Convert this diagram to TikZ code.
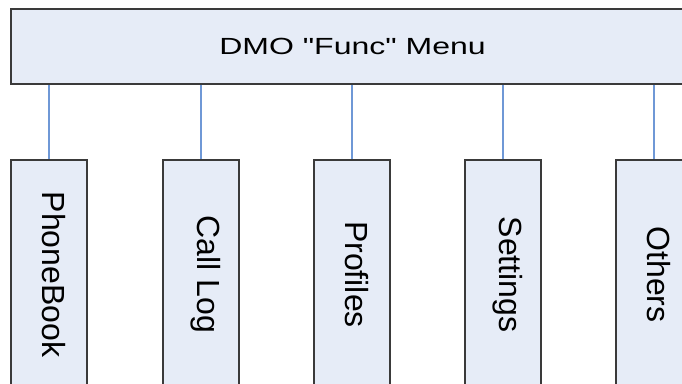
\documentclass[tikz,border=0pt]{standalone}
\usepackage{fontspec}
\setmainfont{Liberation Sans}
\definecolor{boxfill}{HTML}{E6ECF7}
\definecolor{boxline}{HTML}{3A3A3A}
\definecolor{linkblue}{HTML}{6F98D6}
\newcommand{\itemtext}[1]{\rotatebox{-90}{\raisebox{5pt}[\height][\depth]{#1}}}
\tikzset{
  menubox/.style={draw=boxline, fill=boxfill, rectangle, line width=1.6pt, inner sep=0pt},
  itembox/.style={menubox, minimum width=76pt, minimum height=229pt},
  link/.style={draw=linkblue, line width=1.1pt}
}
\begin{document}
\begin{tikzpicture}[x=1pt, y=-1pt]
\useasboundingbox (0,0) rectangle (682,383);
\clip (0,0) rectangle (682,383);
\fontsize{32}{38}\selectfont
\node[menubox, minimum width=683pt, minimum height=75pt] (menu) at (352.5,46.5) {\scalebox{1}[0.73]{DMO \textquotedbl Func\textquotedbl{} Menu}};

\node[itembox] (pb) at (49,274.5) {\itemtext{PhoneBook}};
\node[itembox] (cl) at (201,274.5) {\itemtext{Call Log}};
\node[itembox] (pf) at (352,274.5) {\itemtext{Profiles}};
\node[itembox] (st) at (503,274.5) {\itemtext{Settings}};
\node[itembox] (ot) at (654,274.5) {\itemtext{Others}};

\foreach \n in {pb,cl,pf,st,ot}
  \draw[link] (\n.north |- menu.south) -- (\n.north);
\end{tikzpicture}
\end{document}
